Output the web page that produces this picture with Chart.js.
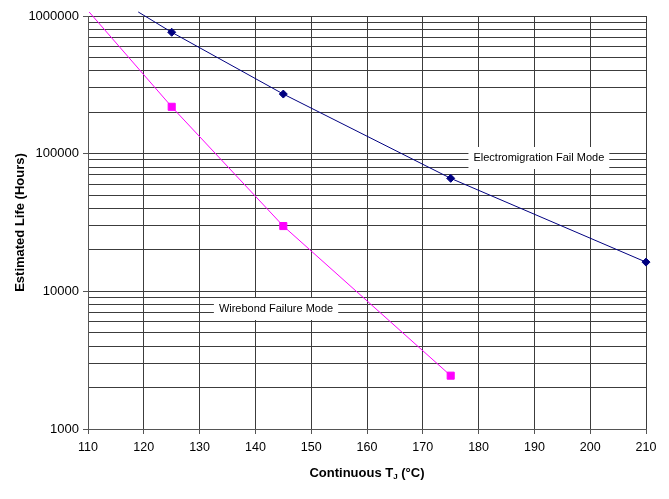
<!DOCTYPE html>
<html>
<head>
<meta charset="utf-8">
<script src="https://cdn.jsdelivr.net/npm/chart.js@4.4.0/dist/chart.umd.min.js"></script>
<style>
  html, body { margin: 0; padding: 0; background: #fff; }
  #wrap { width: 669px; height: 499px; position: relative; }
</style>
</head>
<body>
<div id="wrap"><canvas id="grafico"></canvas></div>
<script>
// Eixo X (temperatura de junção) e décadas do eixo Y
const temperaturas = [110, 120, 130, 140, 150, 160, 170, 180, 190, 200, 210];
const decadasY = [1000, 10000, 100000, 1000000];

// Electromigration: o primeiro ponto é só o prolongamento da linha (sem marcador)
const emTemp = [119, 125, 145, 175, 210];
const emVida = [1070000, 762000, 271000, 66200, 16300];

// Wirebond: idem
const wbTemp = [110.2, 125, 145, 175];
const wbVida = [1070000, 219000, 29800, 2440];

const rotulos = [
  { texto: "Electromigration Fail Mode", x: 190.8, y: 93000 },
  { texto: "Wirebond Failure Mode", x: 143.7, y: 7440 },
];

// grade do eixo log: 1..9 x cada década
const gradeY = [];
decadasY.forEach((d, i) => {
  if (i === decadasY.length - 1) { gradeY.push(d); return; }
  for (let k = 1; k <= 9; k++) gradeY.push(d * k);
});

const FONTE = "'Liberation Sans', Arial, sans-serif";
const COR_GRADE = "#3c3c3c";
const COR_EIXO = "#555555";

function pontos(xs, ys) {
  return xs.map((x, i) => ({ x: x, y: ys[i] }));
}

const pluginRotulos = {
  id: "rotulos",
  beforeDatasetsDraw(chart) {
    const ctx = chart.ctx;
    const sx = chart.scales.x, sy = chart.scales.y;
    ctx.save();
    ctx.font = "11px " + FONTE;
    ctx.textAlign = "center";
    ctx.textBaseline = "middle";
    rotulos.forEach((r) => {
      const px = sx.getPixelForValue(r.x);
      const py = sy.getPixelForValue(r.y);
      const w = ctx.measureText(r.texto).width;
      ctx.fillStyle = "#ffffff";
      ctx.fillRect(px - w / 2 - 5, py - 11, w + 10, 22);
      ctx.fillStyle = "#000000";
      ctx.fillText(r.texto, px, py);
    });
    ctx.restore();
  },
  afterDraw(chart) {
    const ctx = chart.ctx;
    const area = chart.chartArea;
    ctx.save();
    ctx.fillStyle = "#000000";
    // titulo Y
    ctx.font = "bold 13px " + FONTE;
    ctx.textAlign = "center";
    ctx.textBaseline = "middle";
    ctx.translate(20, (area.top + area.bottom) / 2);
    ctx.rotate(-Math.PI / 2);
    ctx.fillText("Estimated Life (Hours)", 0, 0);
    ctx.restore();

    // titulo X com subscrito
    ctx.save();
    ctx.fillStyle = "#000000";
    ctx.textBaseline = "alphabetic";
    ctx.textAlign = "left";
    const p1 = "Continuous T", sub = "J", p2 = " (°C)";
    ctx.font = "bold 13px " + FONTE;
    const w1 = ctx.measureText(p1).width;
    const w3 = ctx.measureText(p2).width;
    ctx.font = "bold 8px " + FONTE;
    const w2 = ctx.measureText(sub).width;
    let x = (area.left + area.right) / 2 - (w1 + w2 + w3) / 2;
    const y = 477;
    ctx.font = "bold 13px " + FONTE;
    ctx.fillText(p1, x, y);
    x += w1;
    ctx.font = "bold 8px " + FONTE;
    ctx.fillText(sub, x, y + 2);
    x += w2;
    ctx.font = "bold 13px " + FONTE;
    ctx.fillText(p2, x, y);
    ctx.restore();
  },
};

new Chart(document.getElementById("grafico"), {
  type: "line",
  data: {
    datasets: [
      {
        label: "Electromigration Fail Mode",
        data: pontos(emTemp, emVida),
        borderColor: "#000080",
        backgroundColor: "#000080",
        borderWidth: 1,
        pointStyle: "rectRot",
        pointRadius: (c) => (c.dataIndex === 0 ? 0 : 4),
        pointBorderWidth: 1,
        tension: 0,
        clip: 8,
      },
      {
        label: "Wirebond Failure Mode",
        data: pontos(wbTemp, wbVida),
        borderColor: "#ff00ff",
        backgroundColor: "#ff00ff",
        borderWidth: 1,
        pointStyle: "rect",
        pointRadius: (c) => (c.dataIndex === 0 ? 0 : 5),
        pointBorderWidth: 1,
        tension: 0,
        clip: 8,
      },
    ],
  },
  options: {
    responsive: true,
    maintainAspectRatio: false,
    animation: false,
    layout: { padding: { top: 16, right: 23, left: 0, bottom: 0 } },
    plugins: {
      legend: { display: false },
      tooltip: { enabled: false },
    },
    scales: {
      x: {
        type: "linear",
        min: 110,
        max: 210,
        afterBuildTicks: (s) => { s.ticks = temperaturas.map((v) => ({ value: v })); },
        afterFit: (s) => { s.height = 70; },
        ticks: {
          autoSkip: false,
          maxRotation: 0,
          padding: 6,
          color: "#000",
          font: { family: FONTE, size: 12.5 },
        },
        grid: { color: COR_GRADE, lineWidth: 1, tickLength: 5, tickColor: COR_EIXO },
        border: { color: COR_EIXO },
      },
      y: {
        type: "logarithmic",
        min: 1000,
        max: 1000000,
        afterBuildTicks: (s) => { s.ticks = gradeY.map((v) => ({ value: v })); },
        afterFit: (s) => { s.width = 88; },
        ticks: {
          autoSkip: false,
          padding: 4,
          color: "#000",
          font: { family: FONTE, size: 13 },
          callback: (v) => (decadasY.includes(v) ? String(v) : ""),
        },
        grid: {
          color: COR_GRADE,
          lineWidth: 1,
          tickLength: 5,
          tickColor: (c) => (c.tick && decadasY.includes(c.tick.value) ? COR_EIXO : "rgba(0,0,0,0)"),
        },
        border: { color: COR_EIXO },
      },
    },
  },
  plugins: [pluginRotulos],
});
</script>
</body>
</html>
